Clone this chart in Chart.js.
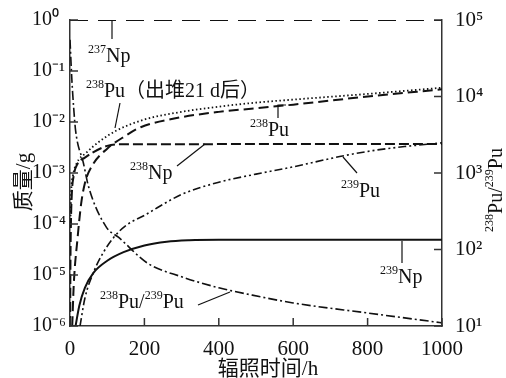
<!DOCTYPE html>
<html>
<head>
<meta charset="utf-8">
<title>237Np irradiation products</title>
<script src="https://cdn.jsdelivr.net/npm/chart.js"></script>
<style>
  html, body { margin: 0; padding: 0; background: #fff; }
</style>
</head>
<body>
<canvas id="chart" width="506" height="378"></canvas>
<script>
// values: hours of irradiation, mass in g
const np237Hours = [0, 1000];
const np237Mass = [1, 1];

const pu238CoolHours = [1, 3, 8, 17, 44, 80, 125, 200, 300, 400, 500, 600, 800, 1000];
const pu238CoolMass = [1e-4, 4e-4, 8.9e-4, 1.5e-3, 2.5e-3, 4.2e-3, 6.8e-3, 1.12e-2, 1.58e-2, 2.0e-2, 2.4e-2, 2.75e-2, 3.55e-2, 4.7e-2];

const pu238Hours = [6, 10, 20, 30, 40, 60, 100, 150, 190, 280, 400, 500, 600, 800, 1000];
const pu238Mass = [1e-6, 6.3e-6, 5e-5, 2.5e-4, 6.3e-4, 1.41e-3, 3.0e-3, 5.4e-3, 7.9e-3, 1.17e-2, 1.58e-2, 1.86e-2, 2.19e-2, 3.16e-2, 4.37e-2];

const np238Hours = [0.5, 1, 2.5, 5, 10, 20, 40, 60, 100, 130, 1000];
const np238Mass = [1e-6, 1e-5, 1e-4, 4e-4, 8.9e-4, 1.5e-3, 2.0e-3, 2.5e-3, 3.4e-3, 3.65e-3, 3.7e-3];

const pu239Hours = [27, 40, 63, 90, 117, 150, 200, 300, 400, 500, 600, 725, 814, 900, 1000];
const pu239Mass = [1e-6, 3.5e-6, 1.12e-5, 2.8e-5, 5.4e-5, 9.3e-5, 1.48e-4, 3.8e-4, 6.6e-4, 9.5e-4, 1.32e-3, 2.1e-3, 2.75e-3, 3.3e-3, 3.9e-3];

const np239Hours = [15, 25, 40, 63, 100, 144, 200, 260, 320, 400, 1000];
const np239Mass = [1e-6, 2.5e-6, 5.6e-6, 1.1e-5, 1.9e-5, 2.8e-5, 3.8e-5, 4.5e-5, 4.8e-5, 4.9e-5, 4.9e-5];

// 238Pu/239Pu ratio, right axis
const ratioHours = [0, 5, 10, 15, 36, 50, 98, 130, 209, 300, 400, 484, 600, 800, 1000];
const ratioValues = [55000, 16600, 7000, 3600, 1350, 660, 195, 145, 66, 44, 31.6, 25.7, 20, 14.8, 11];

const hourTicks = [0, 200, 400, 600, 800, 1000];
const massTicks = [1e-6, 1e-5, 1e-4, 1e-3, 1e-2, 1e-1, 1];
const ratioTicks = [10, 100, 1000, 1e4, 1e5];

const SERIF = '"Liberation Serif", "Noto Sans CJK SC", serif';
const INK = '#111';

const SUP = {'0':'⁰','1':'¹','2':'²','3':'³','4':'⁴','5':'⁵','6':'⁶','7':'⁷','8':'⁸','9':'⁹','-':'⁻'};
function pow10(v) {
    const e = Math.round(Math.log10(v));
    return '10' + String(e).split('').map(c => SUP[c]).join('');
}

function pts(xs, ys) {
    return xs.map((x, i) => ({ x: x, y: ys[i] }));
}

function line(data, dash, width, axis) {
    return {
        data: data,
        yAxisID: axis || 'y',
        borderColor: INK,
        borderWidth: width,
        borderDash: dash,
        pointRadius: 0,
        fill: false,
        cubicInterpolationMode: 'monotone'
    };
}

// draws e.g. 238Pu with a small raised mass number, returns end x
function iso(ctx, x, base, mass, sym) {
    ctx.font = '12px ' + SERIF;
    ctx.fillText(mass, x, base - 9);
    const w = ctx.measureText(mass).width;
    ctx.font = '20px ' + SERIF;
    ctx.fillText(sym, x + w, base);
    return x + w + ctx.measureText(sym).width;
}

function leader(ctx, pts) {
    ctx.beginPath();
    ctx.moveTo(pts[0][0], pts[0][1]);
    for (let i = 1; i < pts.length; i++) ctx.lineTo(pts[i][0], pts[i][1]);
    ctx.stroke();
}

const decor = {
    id: 'decor',
    afterDraw(chart) {
        const { ctx, chartArea: a, scales } = chart;
        ctx.save();
        // inward tick marks
        ctx.strokeStyle = '#333';
        ctx.lineWidth = 1.5;
        ctx.beginPath();
        hourTicks.forEach(v => {
            const x = scales.x.getPixelForValue(v);
            ctx.moveTo(x, a.bottom);
            ctx.lineTo(x, a.bottom - 8);
        });
        massTicks.forEach(v => {
            const y = scales.y.getPixelForValue(v);
            ctx.moveTo(a.left, y);
            ctx.lineTo(a.left + 8, y);
        });
        ratioTicks.forEach(v => {
            const y = scales.y2.getPixelForValue(v);
            ctx.moveTo(a.right, y);
            ctx.lineTo(a.right - 8, y);
        });
        ctx.stroke();

        // curve labels
        ctx.fillStyle = INK;
        ctx.strokeStyle = INK;
        ctx.lineWidth = 1.2;
        ctx.textAlign = 'left';
        ctx.textBaseline = 'alphabetic';

        iso(ctx, 88, 62, '237', 'Np');
        leader(ctx, [[112, 20], [112, 39]]);

        let end = iso(ctx, 86, 97, '238', 'Pu');
        ctx.font = '20px ' + SERIF;
        ctx.fillText('（出堆21 d后）', end, 97);
        leader(ctx, [[120, 103], [115, 128]]);

        iso(ctx, 250, 136, '238', 'Pu');
        leader(ctx, [[286, 105], [278, 105], [278, 118]]);

        iso(ctx, 130, 179, '238', 'Np');
        leader(ctx, [[177, 166], [205, 144]]);

        iso(ctx, 341, 197, '239', 'Pu');
        leader(ctx, [[357, 173], [343, 157]]);

        iso(ctx, 380, 283, '239', 'Np');
        leader(ctx, [[402, 241], [402, 263]]);

        end = iso(ctx, 100, 308, '238', 'Pu/');
        iso(ctx, end, 308, '239', 'Pu');
        leader(ctx, [[198, 305], [230, 292]]);

        // axis titles
        ctx.font = '21px ' + SERIF;
        ctx.textAlign = 'center';
        ctx.fillText('辐照时间/h', 268, 375);

        ctx.save();
        ctx.translate(30, 182);
        ctx.rotate(-Math.PI / 2);
        ctx.fillText('质量/g', 0, 0);
        ctx.restore();

        ctx.save();
        ctx.translate(502, 190);
        ctx.rotate(-Math.PI / 2);
        ctx.textAlign = 'left';
        ctx.font = '12px ' + SERIF;
        const wSup = ctx.measureText('238').width;
        ctx.font = '20px ' + SERIF;
        const total = 2 * wSup + ctx.measureText('Pu/').width + ctx.measureText('Pu').width;
        end = iso(ctx, -total / 2, 0, '238', 'Pu/');
        iso(ctx, end, 0, '239', 'Pu');
        ctx.restore();

        ctx.restore();
    }
};

const tickFont = { family: SERIF, size: 21 };

new Chart(document.getElementById('chart'), {
    type: 'line',
    data: {
        datasets: [
            line(pts(np237Hours, np237Mass), [18, 10], 2),
            line(pts(pu238CoolHours, pu238CoolMass), [1.5, 2.5], 1.8),
            line(pts(pu238Hours, pu238Mass), [10, 5], 2),
            line(pts(np238Hours, np238Mass), [10, 4], 2),
            line(pts(pu239Hours, pu239Mass), [8, 3, 2, 3, 2, 3], 1.6),
            line(pts(np239Hours, np239Mass), [], 2),
            line(pts(ratioHours, ratioValues), [9, 3, 2, 3], 1.6, 'y2')
        ]
    },
    options: {
        responsive: false,
        animation: false,
        layout: { padding: { top: 20, left: 32, right: 0, bottom: 0 } },
        plugins: { legend: { display: false }, tooltip: { enabled: false } },
        scales: {
            x: {
                type: 'linear',
                min: 0,
                max: 1000,
                afterBuildTicks: s => { s.ticks = hourTicks.map(v => ({ value: v })); },
                afterFit: s => { s.height = 52; },
                grid: { display: false },
                border: { color: '#333', width: 1.5 },
                ticks: { font: tickFont, color: INK, padding: 3, maxRotation: 0, callback: v => String(v) }
            },
            y: {
                type: 'logarithmic',
                position: 'left',
                min: 1e-6,
                max: 1,
                afterBuildTicks: s => { s.ticks = massTicks.map(v => ({ value: v })); },
                afterFit: s => { s.width = 38; },
                grid: { display: false },
                border: { color: '#333', width: 1.5 },
                ticks: { font: { family: SERIF, size: 20 }, color: INK, crossAlign: 'far', callback: v => pow10(v) }
            },
            y2: {
                type: 'logarithmic',
                position: 'right',
                min: 10,
                max: 1e5,
                afterBuildTicks: s => { s.ticks = ratioTicks.map(v => ({ value: v })); },
                afterFit: s => { s.width = 64; },
                grid: { display: false },
                border: { color: '#333', width: 1.5 },
                ticks: { font: tickFont, color: INK, padding: 5, callback: v => pow10(v) }
            }
        }
    },
    plugins: [decor]
});
</script>
</body>
</html>
